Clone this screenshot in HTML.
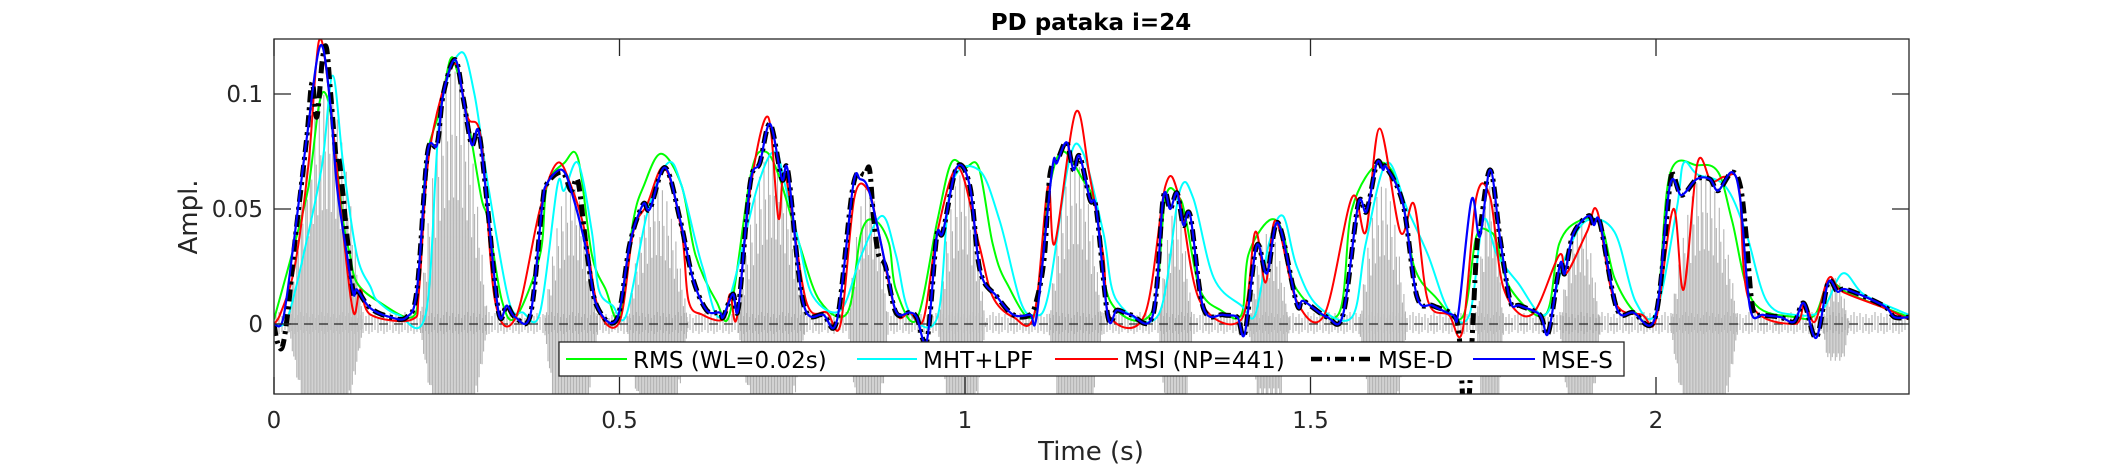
<!DOCTYPE html>
<html><head><meta charset="utf-8"><style>
html,body{margin:0;padding:0;background:#fff;}
svg{display:block;font-family:"DejaVu Sans","Liberation Sans",sans-serif;}
</style></head><body>
<svg id="chart" width="2109" height="469" viewBox="0 0 2109 469" xmlns="http://www.w3.org/2000/svg">
<defs><clipPath id="pc"><rect x="274" y="39" width="1635" height="355"/></clipPath></defs>
<rect x="0" y="0" width="2109" height="469" fill="#fff"/>
<text x="1091" y="30" text-anchor="middle" font-size="23" font-weight="bold" fill="#000">PD pataka i=24</text>
<g id="wave" clip-path="url(#pc)"></g>
<line x1="274" y1="324" x2="1909" y2="324" stroke="#262626" stroke-width="1.2" stroke-dasharray="9,6"/>
<g id="series" clip-path="url(#pc)"></g>
<g id="axes"></g>
<text x="0" y="0" transform="translate(197,217) rotate(-90)" text-anchor="middle" font-size="26" fill="#262626">Ampl.</text>
<text x="1091" y="460" text-anchor="middle" font-size="26" fill="#262626">Time (s)</text>
<g>
<rect x="559" y="342" width="1065" height="34" fill="#fff" stroke="#262626" stroke-width="1.3"/>
<g><line x1="566" y1="359" x2="627" y2="359" stroke="#00ff00" stroke-width="2"/><text x="633" y="368" font-size="23" fill="#000">RMS (WL=0.02s)</text></g>
<g><line x1="857" y1="359" x2="917" y2="359" stroke="#00ffff" stroke-width="2"/><text x="923" y="368" font-size="23" fill="#000">MHT+LPF</text></g>
<g><line x1="1055" y1="359" x2="1118" y2="359" stroke="#ff0000" stroke-width="2"/><text x="1124" y="368" font-size="23" fill="#000">MSI (NP=441)</text></g>
<g><line x1="1311" y1="359" x2="1372" y2="359" stroke="#000" stroke-width="4.5" stroke-dasharray="11,5,3,5"/><text x="1378" y="368" font-size="23" fill="#000">MSE-D</text></g>
<g><line x1="1473" y1="359" x2="1535" y2="359" stroke="#0000ff" stroke-width="2"/><text x="1541" y="368" font-size="23" fill="#000">MSE-S</text></g>
</g>
</svg>
<script>
const xTicks = [0, 0.5, 1, 1.5, 2];
const xTickLabels = ["0", "0.5", "1", "1.5", "2"];
const yTicks = [0, 0.05, 0.1];
const yTickLabels = ["0", "0.05", "0.1"];
const bursts = [[0.02,0.13,0.10,-0.04],[0.21,0.31,0.11,-0.04],[0.39,0.47,0.06,-0.04],[0.51,0.60,0.06,-0.04],[0.67,0.77,0.075,-0.04],[0.83,0.89,0.06,-0.04],[0.96,1.03,0.065,-0.04],[1.12,1.20,0.07,-0.04],[1.28,1.33,0.05,-0.04],[1.41,1.47,0.04,-0.035],[1.57,1.64,0.06,-0.04],[1.74,1.78,0.06,-0.04],[1.86,1.92,0.045,-0.04],[2.02,2.12,0.065,-0.04],[2.24,2.28,0.02,-0.016]];
const mseS = [[0,0],[.013,.002],[.028,.034],[.047,.080],[.067,.121],[.081,.097],[.091,.060],[.105,.031],[.115,.013],[.12,.015],[.139,.007],[.168,.003],[.192,.003],[.207,.015],[.222,.074],[.236,.078],[.245,.100],[.262,.115],[.274,.098],[.286,.078],[.296,.084],[.308,.054],[.325,.005],[.337,.008],[.349,.003],[.371,.004],[.388,.051],[.395,.061],[.417,.067],[.433,.055],[.453,.031],[.467,.008],[.496,.002],[.515,.035],[.534,.052],[.544,.050],[.566,.068],[.588,.045],[.606,.020],[.626,.006],[.645,.005],[.65,.003],[.664,.013],[.672,.007],[.689,.061],[.703,.070],[.718,.087],[.735,.063],[.744,.066],[.766,.009],[.795,.004],[.815,.002],[.838,.060],[.848,.063],[.862,.057],[.887,.023],[.901,.005],[.92,.005],[.93,.003],[.945,-.007],[.959,.038],[.968,.040],[.988,.068],[1.007,.060],[1.022,.023],[1.046,.012],[1.07,.004],[1.094,.004],[1.104,.004],[1.126,.067],[1.133,.070],[1.147,.079],[1.157,.067],[1.166,.073],[1.181,.054],[1.19,.050],[1.207,.003],[1.22,.006],[1.24,.004],[1.272,.004],[1.287,.055],[1.297,.050],[1.307,.057],[1.316,.043],[1.326,.047],[1.345,.007],[1.374,.004],[1.394,.003],[1.405,-.004],[1.422,.034],[1.437,.022],[1.453,.044],[1.48,.009],[1.49,.010],[1.524,.003],[1.547,.004],[1.569,.052],[1.581,.049],[1.596,.070],[1.605,.067],[1.61,.068],[1.634,.052],[1.654,.012],[1.677,.008],[1.706,.004],[1.714,.005],[1.733,.054],[1.745,.038],[1.76,.067],[1.774,.038],[1.789,.010],[1.803,.008],[1.832,.004],[1.844,-.004],[1.861,.026],[1.868,.022],[1.88,.039],[1.902,.047],[1.91,.043],[1.919,.044],[1.943,.007],[1.967,.005],[1.999,.003],[2.02,.060],[2.037,.056],[2.059,.063],[2.078,.063],[2.09,.058],[2.11,.066],[2.122,.054],[2.136,.007],[2.155,.004],[2.18,.003],[2.2,.001],[2.214,.009],[2.232,-.006],[2.249,.018],[2.263,.014],[2.276,.015],[2.329,.008],[2.345,.003],[2.366,.003]];
const mseD = [[0,0],[.005,-.008],[.012,-.010],[.02,.005],[.03,.035],[.047,.080],[.055,.105],[.062,.090],[.07,.115],[.076,.120],[.082,.100],[.09,.072],[.095,.070],[.105,.040],[.115,.013],[.12,.015],[.139,.007],[.168,.003],[.192,.003],[.207,.015],[.222,.074],[.236,.078],[.245,.100],[.262,.115],[.274,.098],[.286,.078],[.296,.084],[.308,.054],[.325,.005],[.337,.008],[.349,.003],[.371,.004],[.388,.051],[.395,.061],[.417,.066],[.43,.058],[.44,.062],[.453,.031],[.467,.008],[.496,.002],[.515,.035],[.534,.052],[.544,.050],[.566,.068],[.588,.045],[.606,.020],[.626,.006],[.645,.005],[.65,.003],[.664,.013],[.672,.007],[.689,.061],[.703,.070],[.718,.087],[.735,.063],[.744,.066],[.766,.009],[.795,.004],[.815,.002],[.838,.060],[.855,.065],[.862,.067],[.868,.045],[.875,.030],[.885,.025],[.9,.005],[.92,.005],[.93,.003],[.945,-.007],[.959,.038],[.968,.040],[.988,.068],[1.007,.060],[1.022,.023],[1.046,.012],[1.07,.004],[1.094,.004],[1.105,.012],[1.115,.030],[1.123,.065],[1.135,.072],[1.147,.079],[1.157,.067],[1.166,.073],[1.181,.054],[1.19,.050],[1.207,.003],[1.22,.006],[1.24,.004],[1.272,.004],[1.287,.055],[1.297,.050],[1.307,.057],[1.316,.043],[1.326,.047],[1.345,.007],[1.374,.004],[1.394,.003],[1.405,-.004],[1.422,.034],[1.437,.022],[1.453,.044],[1.48,.009],[1.49,.010],[1.524,.003],[1.547,.004],[1.569,.052],[1.581,.049],[1.596,.070],[1.605,.067],[1.61,.068],[1.634,.052],[1.654,.012],[1.677,.008],[1.706,.004],[1.715,-.005],[1.722,-.040],[1.728,-.040],[1.74,.030],[1.745,.040],[1.76,.067],[1.774,.038],[1.789,.010],[1.803,.008],[1.832,.004],[1.844,-.004],[1.861,.026],[1.868,.022],[1.88,.039],[1.902,.047],[1.91,.043],[1.919,.044],[1.943,.007],[1.967,.005],[1.999,.003],[2.02,.060],[2.025,.065],[2.037,.056],[2.059,.063],[2.078,.063],[2.09,.058],[2.11,.066],[2.122,.060],[2.13,.040],[2.14,.007],[2.155,.004],[2.18,.003],[2.2,.001],[2.214,.009],[2.232,-.006],[2.249,.018],[2.263,.014],[2.276,.015],[2.329,.008],[2.345,.003],[2.366,.003]];
const msi = [[0,0],[.01,.005],[.03,.025],[.05,.07],[.065,.123],[.08,.1],[.1,.04],[.115,.005],[.125,.015],[.14,.004],[.2,.002],[.21,.015],[.225,.075],[.26,.113],[.28,.09],[.3,.08],[.32,.01],[.35,.003],[.385,.05],[.41,.07],[.43,.06],[.45,.04],[.47,.006],[.5,.001],[.52,.04],[.54,.052],[.565,.068],[.59,.04],[.6,.01],[.62,.004],[.65,.002],[.66,.013],[.67,.003],[.69,.06],[.715,.09],[.73,.046],[.74,.065],[.77,.01],[.8,.005],[.82,0],[.84,.055],[.86,.058],[.875,.04],[.9,.005],[.92,.005],[.94,.002],[.96,.04],[.99,.068],[1.02,.035],[1.04,.012],[1.07,.003],[1.1,.004],[1.12,.06],[1.13,.035],[1.16,.092],[1.18,.065],[1.2,.03],[1.21,.003],[1.26,.004],[1.29,.06],[1.31,.055],[1.34,.01],[1.4,.002],[1.42,.04],[1.435,.018],[1.45,.045],[1.48,.01],[1.52,.004],[1.56,.055],[1.58,.04],[1.6,.085],[1.63,.04],[1.65,.052],[1.67,.01],[1.7,.004],[1.72,-.003],[1.74,.055],[1.76,.055],[1.78,.015],[1.82,.004],[1.86,.03],[1.87,.022],[1.9,.04],[1.915,.049],[1.94,.01],[1.98,.004],[2.0,.002],[2.025,.05],[2.04,.015],[2.06,.07],[2.08,.062],[2.1,.064],[2.12,.06],[2.135,.01],[2.2,0],[2.215,.009],[2.23,.001],[2.25,.02],[2.27,.014],[2.33,.007],[2.366,.002]];
const rms = [[0,.002],[.03,.035],[.05,.06],[.065,.095],[.075,.1],[.085,.085],[.1,.045],[.11,.03],[.12,.018],[.15,.01],[.2,.003],[.21,.02],[.22,.07],[.24,.093],[.255,.115],[.265,.11],[.28,.09],[.3,.055],[.31,.045],[.33,.01],[.35,.003],[.385,.03],[.395,.06],[.42,.07],[.44,.072],[.46,.03],[.48,.015],[.5,.003],[.52,.045],[.535,.06],[.56,.074],[.59,.06],[.61,.03],[.64,.01],[.66,.005],[.69,.065],[.71,.075],[.73,.065],[.76,.035],[.79,.01],[.83,.005],[.85,.04],[.87,.045],[.89,.035],[.9,.015],[.93,.002],[.96,.045],[.98,.07],[1.0,.068],[1.02,.068],[1.04,.035],[1.06,.018],[1.1,.004],[1.12,.055],[1.14,.075],[1.17,.063],[1.19,.05],[1.21,.01],[1.27,.005],[1.29,.055],[1.31,.055],[1.32,.045],[1.34,.015],[1.37,.006],[1.4,.004],[1.41,.03],[1.44,.045],[1.46,.04],[1.48,.015],[1.54,.004],[1.56,.05],[1.6,.07],[1.63,.058],[1.65,.025],[1.68,.012],[1.72,.003],[1.74,.038],[1.76,.04],[1.77,.035],[1.79,.015],[1.84,.004],[1.86,.035],[1.89,.045],[1.92,.043],[1.94,.02],[1.97,.005],[2.0,.004],[2.02,.065],[2.06,.069],[2.09,.066],[2.11,.045],[2.14,.01],[2.2,.003],[2.23,.004],[2.25,.018],[2.28,.013],[2.34,.006],[2.366,.003]];
const mht = [[0,0],[.02,.003],[.05,.04],[.07,.07],[.085,.108],[.1,.07],[.12,.03],[.14,.016],[.15,.01],[.18,.004],[.22,.005],[.24,.09],[.27,.118],[.29,.1],[.31,.06],[.34,.01],[.36,.005],[.385,.005],[.41,.06],[.42,.058],[.44,.07],[.46,.04],[.47,.015],[.49,.008],[.51,.004],[.54,.048],[.57,.07],[.59,.06],[.62,.025],[.65,.004],[.7,.06],[.725,.075],[.74,.06],[.76,.035],[.78,.012],[.82,.006],[.85,.03],[.88,.047],[.9,.03],[.92,.005],[.96,.003],[.98,.06],[1.02,.067],[1.05,.045],[1.08,.01],[1.1,.004],[1.12,.012],[1.15,.07],[1.17,.075],[1.2,.04],[1.22,.01],[1.28,.004],[1.31,.057],[1.33,.055],[1.36,.02],[1.4,.008],[1.42,.004],[1.44,.035],[1.46,.047],[1.48,.025],[1.51,.008],[1.56,.003],[1.58,.035],[1.61,.07],[1.64,.05],[1.67,.03],[1.7,.006],[1.73,.004],[1.75,.045],[1.77,.03],[1.8,.018],[1.84,.004],[1.87,.03],[1.9,.045],[1.94,.04],[1.97,.01],[2.0,.005],[2.03,.05],[2.04,.07],[2.06,.065],[2.1,.06],[2.13,.04],[2.16,.01],[2.2,.004],[2.24,.006],[2.27,.022],[2.3,.013],[2.35,.006],[2.366,.004]];

const NS = "http://www.w3.org/2000/svg";
const X = t => 274 + t * 691;
const Y = v => 324 - v * 2300;
function mk(tag, attrs, parent) {
  const e = document.createElementNS(NS, tag);
  for (const k in attrs) e.setAttribute(k, attrs[k]);
  parent.appendChild(e);
  return e;
}
// waveform
const wave = document.getElementById('wave');
let d = "";
for (let px = 276; px < 1908; px += 3) {
  d += "M" + px + " " + (324 - 6 - (px % 7)) + "V" + (324 + 6 + (px % 5));
}
bursts.forEach(b => {
  const x0 = X(b[0]), x1 = X(b[1]);
  let i = 0;
  for (let px = x0; px <= x1; px += 1.5, i++) {
    const f = (px - x0) / (x1 - x0);
    const hump = Math.sin(Math.PI * f);
    const k = (i % 3 === 0) ? 1 : (i % 3 === 1 ? 0.75 : 0.5);
    d += "M" + px.toFixed(1) + " " + Y(b[2] * hump * k).toFixed(1) + "V" + Y(b[3] * Math.min(1, hump * 1.6) * (0.6 + 0.4 * k)).toFixed(1);
  }
});
const wp = mk('path', {d: d, stroke: '#b3b3b3', 'stroke-width': 1.1, fill: 'none'}, wave);


// series (Catmull-Rom smoothed)
const sg = document.getElementById('series');
function smoothPath(data) {
  const p = data.map(q => [X(q[0]), Y(q[1])]);
  let s = 'M' + p[0][0].toFixed(1) + ' ' + p[0][1].toFixed(1);
  for (let i = 0; i < p.length - 1; i++) {
    const p0 = p[Math.max(0, i - 1)], p1 = p[i], p2 = p[i + 1], p3 = p[Math.min(p.length - 1, i + 2)];
    const c1x = p1[0] + (p2[0] - p0[0]) / 6, c1y = p1[1] + (p2[1] - p0[1]) / 6;
    const c2x = p2[0] - (p3[0] - p1[0]) / 6, c2y = p2[1] - (p3[1] - p1[1]) / 6;
    s += 'C' + c1x.toFixed(1) + ' ' + c1y.toFixed(1) + ' ' + c2x.toFixed(1) + ' ' + c2y.toFixed(1) + ' ' + p2[0].toFixed(1) + ' ' + p2[1].toFixed(1);
  }
  return s;
}
function line(data, color, width, dash, name) {
  const p = mk('path', {d: smoothPath(data), stroke: color, 'stroke-width': width, fill: 'none', 'stroke-linejoin': 'round'}, sg);
  if (dash) p.setAttribute('stroke-dasharray', dash);
  
  
}
line(rms, '#00ff00', 2, null, 'rms-line');
line(mht, '#00ffff', 2, null, 'mht-lpf-line');
line(msi, '#ff0000', 2, null, 'msi-line');
line(mseD, '#000000', 5, '12,5,3,5', 'mse-d-line');
line(mseS, '#0000ff', 2.2, null, 'mse-s-line');
// axes
const ax = document.getElementById('axes');
const box = mk('rect', {x: 274, y: 39, width: 1635, height: 355, fill: 'none', stroke: '#262626', 'stroke-width': 1.3}, ax);


xTicks.forEach((t, i) => {
  const x = X(t);
  mk('line', {x1: x, y1: 394, x2: x, y2: 377, stroke: '#262626', 'stroke-width': 1.3}, ax);
  mk('line', {x1: x, y1: 39, x2: x, y2: 56, stroke: '#262626', 'stroke-width': 1.3}, ax);
  const tx = mk('text', {x: x, y: 428, 'text-anchor': 'middle', 'font-size': 23, fill: '#262626'}, ax);
  tx.textContent = xTickLabels[i];
  
  
});
yTicks.forEach((v, i) => {
  const y = Y(v);
  mk('line', {x1: 274, y1: y, x2: 291, y2: y, stroke: '#262626', 'stroke-width': 1.3}, ax);
  mk('line', {x1: 1909, y1: y, x2: 1892, y2: y, stroke: '#262626', 'stroke-width': 1.3}, ax);
  const tx = mk('text', {x: 263, y: y + 8, 'text-anchor': 'end', 'font-size': 23, fill: '#262626'}, ax);
  tx.textContent = yTickLabels[i];
  
  
});
</script>
</body></html>
